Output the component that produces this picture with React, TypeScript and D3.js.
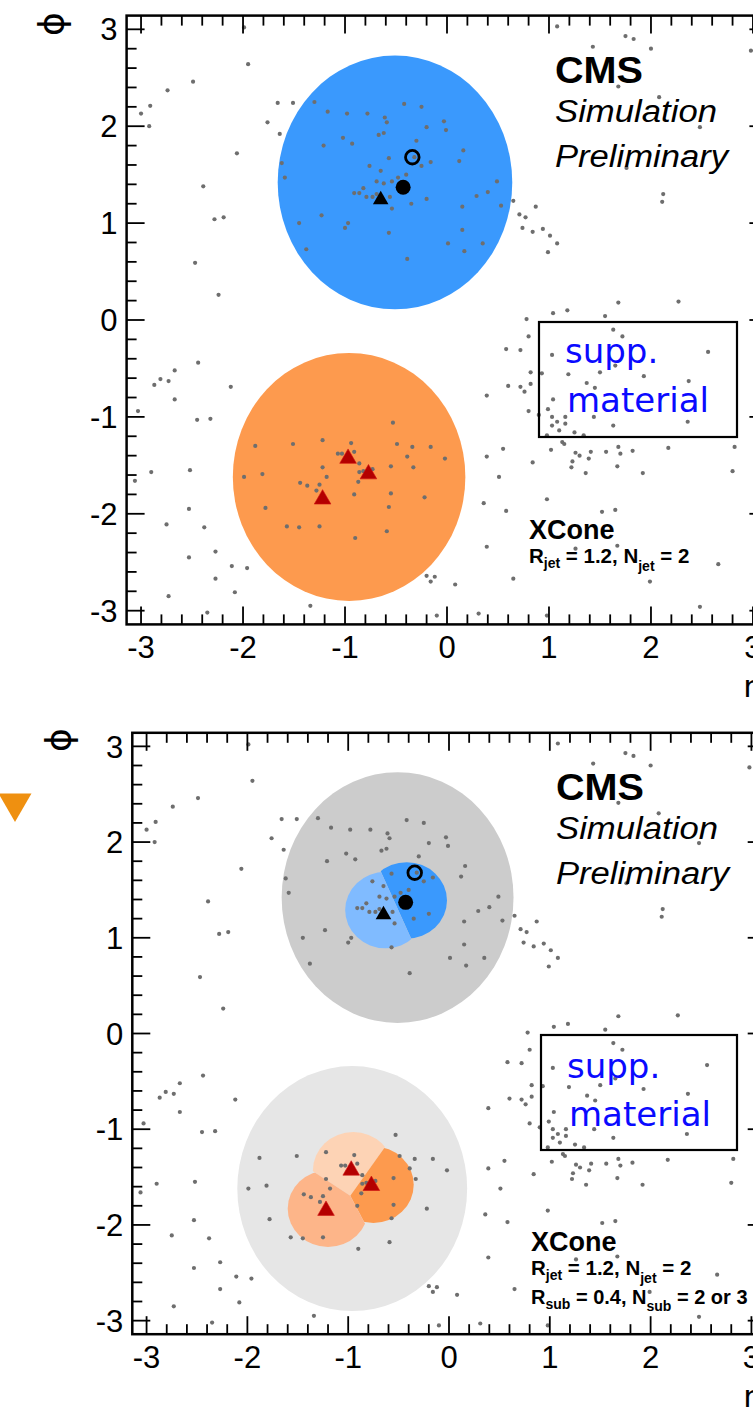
import React from "react";
import * as d3 from "d3";

type P = [number, number]; // [eta, phi]

const particlesUpperLeft: P[] = [
  [-1.99, 3.02], [-1.95, 2.64], [-2.49, 2.46], [-2.74, 2.37], [-2.91, 2.21], [-3.0, 2.13],
  [-2.92, 2.0], [-2.06, 1.72], [-2.39, 1.38], [-2.28, 1.04], [-2.19, 1.06], [-2.47, 0.59],
  [-2.24, 0.26],
];

const particlesLowerLeft: P[] = [
  [-2.44, -0.44], [-2.67, -0.52], [-2.73, -0.63], [-2.81, -0.61], [-2.87, -0.67], [-2.67, -0.82],
  [-2.12, -0.69], [-3.03, -0.94], [-2.45, -1.03], [-2.32, -1.02], [-2.9, -1.57], [-2.52, -1.55],
  [-3.06, -1.66], [-2.53, -1.95], [-2.75, -2.11], [-2.38, -2.14], [-2.27, -2.39], [-2.53, -2.45],
  [-2.11, -2.54], [-1.96, -2.56], [-2.27, -2.67], [-2.73, -2.85], [-2.08, -2.81], [-2.35, -3.02],
];

const particlesBlueJet: P[] = [
  [-1.66, 2.24], [-1.51, 2.24], [-1.3, 2.25], [-0.42, 2.23], [-0.25, 2.2], [-1.76, 2.04],
  [-1.64, 1.92], [-1.17, 2.15], [-0.98, 2.13], [-0.78, 2.13], [-0.61, 2.09], [-0.59, 2.04],
  [-0.2, 1.99], [-0.03, 2.05], [-0.01, 1.96], [-0.67, 1.91], [-0.62, 1.93], [-1.02, 1.88],
  [-0.93, 1.82], [-1.21, 1.8], [-0.3, 1.85], [0.16, 1.75], [0.12, 1.64], [-0.32, 1.68],
  [-0.57, 1.67], [-0.16, 1.63], [-0.25, 1.59], [-1.62, 1.62], [-0.76, 1.59], [-0.65, 1.54],
  [-0.4, 1.5], [-0.48, 1.47], [-0.69, 1.43], [-0.62, 1.41], [-0.54, 1.43], [-1.59, 1.47],
  [-0.82, 1.36], [-0.91, 1.31], [-0.86, 1.31], [-0.79, 1.27], [-0.73, 1.27], [-0.69, 1.3],
  [-0.56, 1.27], [-0.2, 1.25], [-0.54, 1.15], [-0.35, 1.2], [0.29, 1.28], [0.4, 1.32],
  [0.15, 1.17], [-1.23, 1.08], [-1.45, 1.0], [-0.97, 1.0], [-1.0, 0.95], [-0.57, 0.9],
  [0.15, 0.93], [-1.38, 0.73], [0.01, 0.79], [0.17, 0.71], [0.35, 0.79], [-0.39, 0.63],
];

const particlesUpperRight: P[] = [
  [1.08, 3.03], [1.75, 2.93], [1.83, 2.9], [1.43, 2.82], [2.0, 2.8], [2.98, 2.78],
  [1.68, 2.41], [2.08, 2.3], [2.48, 1.99], [1.76, 1.57], [2.12, 1.3], [2.11, 1.22],
  [0.49, 1.43], [0.53, 1.18], [0.65, 1.23], [0.87, 1.17], [0.71, 1.09], [0.77, 1.06],
  [0.74, 0.95], [0.84, 0.91], [0.94, 0.94], [1.01, 0.87], [1.08, 0.79], [0.99, 0.7],
];

const particlesRightMid: P[] = [
  [0.78, 0.01], [1.04, 0.07], [1.18, 0.1], [1.55, 0.04], [1.68, 0.18], [2.27, 0.19],
  [0.8, -0.17], [1.63, -0.1], [1.72, -0.17], [0.58, -0.3], [0.72, -0.31], [1.03, -0.36],
  [2.56, -0.33], [0.82, -0.54], [0.93, -0.55], [1.19, -0.56], [1.65, -0.47], [1.5, -0.54],
  [1.93, -0.58], [2.37, -0.63], [0.6, -0.68], [0.72, -0.69], [0.76, -0.74], [0.82, -0.66],
  [1.37, -0.65], [1.45, -0.7], [0.39, -0.78], [1.04, -0.82], [0.8, -0.94], [0.99, -0.92],
  [0.9, -0.98], [1.03, -1.0], [1.16, -1.0], [1.44, -1.0], [1.08, -1.05], [1.03, -1.09],
  [1.16, -1.07], [1.1, -1.14], [1.63, -1.09], [2.36, -1.05], [1.25, -1.16], [1.34, -1.19],
  [0.98, -1.19], [1.13, -1.26], [1.15, -1.28], [0.55, -1.33], [1.02, -1.34], [1.26, -1.37],
  [1.3, -1.4], [1.41, -1.36], [1.56, -1.36], [1.68, -1.31], [1.7, -1.38], [1.82, -1.35],
  [2.17, -1.32], [2.82, -1.31], [0.39, -1.41], [0.84, -1.47], [1.23, -1.46], [1.39, -1.43],
  [1.22, -1.52], [1.67, -1.51], [1.36, -1.58], [1.92, -1.58], [2.8, -1.56], [0.51, -1.62],
  [0.98, -1.85], [0.36, -1.89], [0.58, -1.97], [1.52, -1.98], [1.65, -1.96], [0.39, -2.34],
  [1.26, -2.36], [1.67, -2.33], [2.66, -2.52], [0.65, -2.67], [1.99, -2.7], [2.48, -2.96],
  [0.98, -3.05],
];

const particlesOrangeJet: P[] = [
  [-0.53, -1.06], [-1.88, -1.3], [-1.51, -1.28], [-1.22, -1.24], [-0.94, -1.27], [-1.07, -1.38],
  [-1.03, -1.38], [-0.91, -1.36], [-0.49, -1.28], [-0.34, -1.31], [-0.39, -1.41], [-0.33, -1.52],
  [-0.86, -1.48], [-0.55, -1.51], [-1.22, -1.52], [-1.81, -1.59], [-1.99, -1.62], [-1.18, -1.62],
  [-0.86, -1.57], [-0.82, -1.56], [-0.73, -1.54], [-0.87, -1.67], [-1.44, -1.68], [-1.37, -1.71],
  [-1.25, -1.7], [-1.28, -1.76], [-0.91, -1.8], [-0.55, -1.79], [-1.78, -1.94], [-0.57, -1.93],
  [-1.57, -2.13], [-1.45, -2.14], [-1.25, -2.13], [-0.59, -2.18], [-0.9, -2.25], [-0.02, -1.43],
  [-0.16, -1.31], [-0.22, -1.83],
];

const particlesBottomEdge: P[] = [
  [-1.34, -2.95], [-0.16, -2.7], [-0.2, -2.64], [-0.12, -2.65], [0.08, -2.73], [-0.1, -3.05],
  [0.31, -3.03],
];

const particles: P[] = [
  ...particlesUpperLeft, ...particlesLowerLeft, ...particlesBlueJet, ...particlesUpperRight,
  ...particlesRightMid, ...particlesOrangeJet, ...particlesBottomEdge,
];

// fat jet catchment areas: centre and half-widths in eta / phi
const fatJetCenters: P[] = [[-0.51, 1.42], [-0.96, -1.62]];
const fatJetHalfEta = [1.15, 1.14];
const fatJetHalfPhi = [1.31, 1.28];
const fatJetColorsTop = ["#3a99fd", "#fd9a4e"];
const fatJetColorsBottom = ["#cccccc", "#e6e6e6"];

// subjets (R_sub = 0.4)
const SUBJET_R = 0.4;
const subjetsBlue: P[] = [[-0.42, 1.39], [-0.63, 1.29]];
const subjetColorsBlue = ["#3a99fd", "#80bbff"];
const subjetsOrange: P[] = [[-0.95, -1.43], [-0.75, -1.58], [-1.2, -1.83]];
const subjetColorsOrange = ["#fdd3b5", "#fd9a4e", "#fdb589"];

// generator-level markers
const blackTriangles: P[] = [[-0.65, 1.24]];
const blackDots: P[] = [[-0.43, 1.37]];
const openRings: P[] = [[-0.34, 1.68]];
const redTriangles: P[] = [[-0.97, -1.43], [-0.77, -1.59], [-1.22, -1.85]];

const majorTicks = [-3, -2, -1, 0, 1, 2, 3];
const tickLabels = ["-3", "-2", "-1", "0", "1", "2", "3"];
const minorTicks = d3.range(-15, 16).filter((i) => i % 5 !== 0).map((i) => i / 5);

const FONT = "'Liberation Sans', Arial, Helvetica, sans-serif";

const panels = [
  {
    id: "top", left: 126.6, right: 767.4, top: 15.6, bottom: 624.4, subjets: false,
    phiTitle: [51, 24], etaTitle: [763, 697],
    cms: [555, 83], sim: [555, 122], prelim: [555, 167],
    box: [539, 322, 198, 115], supp: [565, 363], mat: [567, 412],
    xcone: [529, 539], rjet: [529, 563], rsub: null as null | number[],
  },
  {
    id: "bot", left: 132.3, right: 765.7, top: 732.8, bottom: 1334.2, subjets: true,
    phiTitle: [58, 740], etaTitle: [763, 1407],
    cms: [556, 800], sim: [556, 839], prelim: [556, 884],
    box: [541, 1035, 196, 115], supp: [567, 1078], mat: [569, 1126],
    xcone: [531, 1251], rjet: [531, 1275], rsub: [531, 1304],
  },
];

type Pt = [number, number];

// keep the part of poly that is closer to a than to b
function clipHalf(poly: Pt[], a: Pt, b: Pt): Pt[] {
  const mx = (a[0] + b[0]) / 2, my = (a[1] + b[1]) / 2;
  const dx = b[0] - a[0], dy = b[1] - a[1];
  const f = (p: Pt) => (p[0] - mx) * dx + (p[1] - my) * dy;
  const out: Pt[] = [];
  for (let i = 0; i < poly.length; i++) {
    const p = poly[i], q = poly[(i + 1) % poly.length];
    const fp = f(p), fq = f(q);
    if (fp <= 0) out.push(p);
    if ((fp < 0 && fq > 0) || (fp > 0 && fq < 0)) {
      const t = fp / (fp - fq);
      out.push([p[0] + t * (q[0] - p[0]), p[1] + t * (q[1] - p[1])]);
    }
  }
  return out;
}

function Panel({ cfg }: { cfg: (typeof panels)[number] }) {
  const x = d3.scaleLinear().domain([-Math.PI, Math.PI]).range([cfg.left, cfg.right]);
  const y = d3.scaleLinear().domain([-Math.PI, Math.PI]).range([cfg.bottom, cfg.top]);
  const rect: Pt[] = [[cfg.left, cfg.top], [cfg.right, cfg.top], [cfg.right, cfg.bottom], [cfg.left, cfg.bottom]];

  const fatJets = fatJetCenters.map(([e, p], i) => (
    <ellipse
      key={"fj" + i}
      cx={x(e)}
      cy={y(p)}
      rx={x(e + fatJetHalfEta[i]) - x(e)}
      ry={y(p) - y(p + fatJetHalfPhi[i])}
      fill={cfg.subjets ? fatJetColorsBottom[i] : fatJetColorsTop[i]}
    />
  ));

  const subjetGroup = (axes: P[], colors: string[], tag: string) => {
    const pts: Pt[] = axes.map(([e, p]) => [x(e), y(p)]);
    return axes.map(([e, p], i) => {
      let cell = rect;
      pts.forEach((o, j) => {
        if (j !== i) cell = clipHalf(cell, pts[i], o);
      });
      const id = `${cfg.id}-${tag}-${i}`;
      return (
        <g key={id}>
          <clipPath id={id}>
            <polygon points={cell.map((c) => c.join(",")).join(" ")} />
          </clipPath>
          <ellipse
            cx={x(e)}
            cy={y(p)}
            rx={x(e + SUBJET_R) - x(e)}
            ry={y(p) - y(p + SUBJET_R)}
            fill={colors[i]}
            clipPath={`url(#${id})`}
          />
        </g>
      );
    });
  };

  const tri = d3.symbol(d3.symbolTriangle, 105)() as string;
  const redTri = d3.symbol(d3.symbolTriangle, 120)() as string;

  const MAJ = 18, MIN = 10;
  const tickStyle = { stroke: "#000", strokeWidth: 1.8 };

  return (
    <g>
      {fatJets}
      {cfg.subjets && subjetGroup(subjetsBlue, subjetColorsBlue, "b")}
      {cfg.subjets && subjetGroup(subjetsOrange, subjetColorsOrange, "o")}

      <g fill="#6e6e6e">
        {particles.map(([e, p], i) => (
          <circle key={i} cx={x(e)} cy={y(p)} r={2.1} />
        ))}
      </g>

      {blackTriangles.map(([e, p], i) => (
        <path key={"bt" + i} d={tri} transform={`translate(${x(e)},${y(p)})`} fill="#000" />
      ))}
      {blackDots.map(([e, p], i) => (
        <circle key={"bd" + i} cx={x(e)} cy={y(p)} r={7.5} fill="#000" />
      ))}
      {openRings.map(([e, p], i) => (
        <circle key={"or" + i} cx={x(e)} cy={y(p)} r={6.8} fill="none" stroke="#000" strokeWidth={2.8} />
      ))}
      {redTriangles.map(([e, p], i) => (
        <path key={"rt" + i} d={redTri} transform={`translate(${x(e)},${y(p)})`} fill="#b40000" stroke="#d01010" strokeWidth={0.6} />
      ))}

      {/* ticks on all four sides */}
      <g style={tickStyle as any}>
        {majorTicks.map((t) => (
          <g key={"M" + t}>
            <line x1={x(t)} x2={x(t)} y1={cfg.bottom} y2={cfg.bottom - MAJ} />
            <line x1={x(t)} x2={x(t)} y1={cfg.top} y2={cfg.top + MAJ} />
            <line y1={y(t)} y2={y(t)} x1={cfg.left} x2={cfg.left + MAJ} />
            <line y1={y(t)} y2={y(t)} x1={cfg.right} x2={cfg.right - MAJ} />
          </g>
        ))}
        {minorTicks.map((t) => (
          <g key={"m" + t}>
            <line x1={x(t)} x2={x(t)} y1={cfg.bottom} y2={cfg.bottom - MIN} />
            <line x1={x(t)} x2={x(t)} y1={cfg.top} y2={cfg.top + MIN} />
            <line y1={y(t)} y2={y(t)} x1={cfg.left} x2={cfg.left + MIN} />
            <line y1={y(t)} y2={y(t)} x1={cfg.right} x2={cfg.right - MIN} />
          </g>
        ))}
      </g>
      <rect
        x={cfg.left}
        y={cfg.top}
        width={cfg.right - cfg.left}
        height={cfg.bottom - cfg.top}
        fill="none"
        stroke="#000"
        strokeWidth={2.5}
      />

      <g fontFamily={FONT} fontSize={31} fill="#000">
        {majorTicks.map((t, i) => (
          <text key={"xl" + t} x={x(t)} y={cfg.bottom + 34} textAnchor="middle">
            {tickLabels[i]}
          </text>
        ))}
        {majorTicks.map((t, i) => (
          <text key={"yl" + t} x={cfg.left - 9} y={y(t)} dy="0.36em" textAnchor="end">
            {tickLabels[i]}
          </text>
        ))}
        <text
          transform={`translate(${cfg.phiTitle[0]},${cfg.phiTitle[1]}) rotate(-90)`}
          textAnchor="middle"
          dy="0.35em"
          fontFamily="'DejaVu Sans', sans-serif"
          fontSize={36}
        >
          ϕ
        </text>
        <text x={cfg.etaTitle[0]} y={cfg.etaTitle[1]} textAnchor="end" fontFamily="'DejaVu Sans', sans-serif">
          η
        </text>
      </g>

      <g fontFamily={FONT} fill="#000">
        <text x={cfg.cms[0]} y={cfg.cms[1]} fontSize={37} fontWeight="bold" textLength={88} lengthAdjust="spacingAndGlyphs">
          CMS
        </text>
        <text x={cfg.sim[0]} y={cfg.sim[1]} fontSize={31} fontStyle="italic" textLength={162} lengthAdjust="spacingAndGlyphs">
          Simulation
        </text>
        <text x={cfg.prelim[0]} y={cfg.prelim[1]} fontSize={31} fontStyle="italic" textLength={173} lengthAdjust="spacingAndGlyphs">
          Preliminary
        </text>
      </g>

      <rect x={cfg.box[0]} y={cfg.box[1]} width={cfg.box[2]} height={cfg.box[3]} fill="none" stroke="#000" strokeWidth={2.2} />
      <g fontFamily="'DejaVu Sans', Verdana, sans-serif" fontSize={34} fill="#0a0aff">
        <text x={cfg.supp[0]} y={cfg.supp[1]}>supp.</text>
        <text x={cfg.mat[0]} y={cfg.mat[1]}>material</text>
      </g>

      <g fontFamily={FONT} fontWeight="bold" fill="#000">
        <text x={cfg.xcone[0]} y={cfg.xcone[1]} fontSize={27}>XCone</text>
        <text x={cfg.rjet[0]} y={cfg.rjet[1]} fontSize={20.5}>
          R<tspan fontSize={14} dy={5}>jet</tspan>
          <tspan dy={-5}> = 1.2, N</tspan>
          <tspan fontSize={14} dy={8}>jet</tspan>
          <tspan dy={-8}> = 2</tspan>
        </text>
        {cfg.rsub && (
          <text x={cfg.rsub[0]} y={cfg.rsub[1]} fontSize={20}>
            R<tspan fontSize={14} dy={5}>sub</tspan>
            <tspan dy={-5}> = 0.4, N</tspan>
            <tspan fontSize={14} dy={7}>sub</tspan>
            <tspan dy={-7}> = 2 or 3</tspan>
          </text>
        )}
      </g>
    </g>
  );
}

export default function App() {
  const marker = d3.symbol(d3.symbolTriangle, 470)() as string;
  return (
    <svg
      width={753}
      height={1418}
      style={{ position: "absolute", left: 0, top: 0, background: "#fff" }}
    >
      <rect width={753} height={1418} fill="#fff" />
      {panels.map((cfg) => (
        <Panel key={cfg.id} cfg={cfg} />
      ))}
      {/* stray orange marker left of the lower panel */}
      <path d={marker} transform="translate(15,803) rotate(180)" fill="#ef9010" />
    </svg>
  );
}
